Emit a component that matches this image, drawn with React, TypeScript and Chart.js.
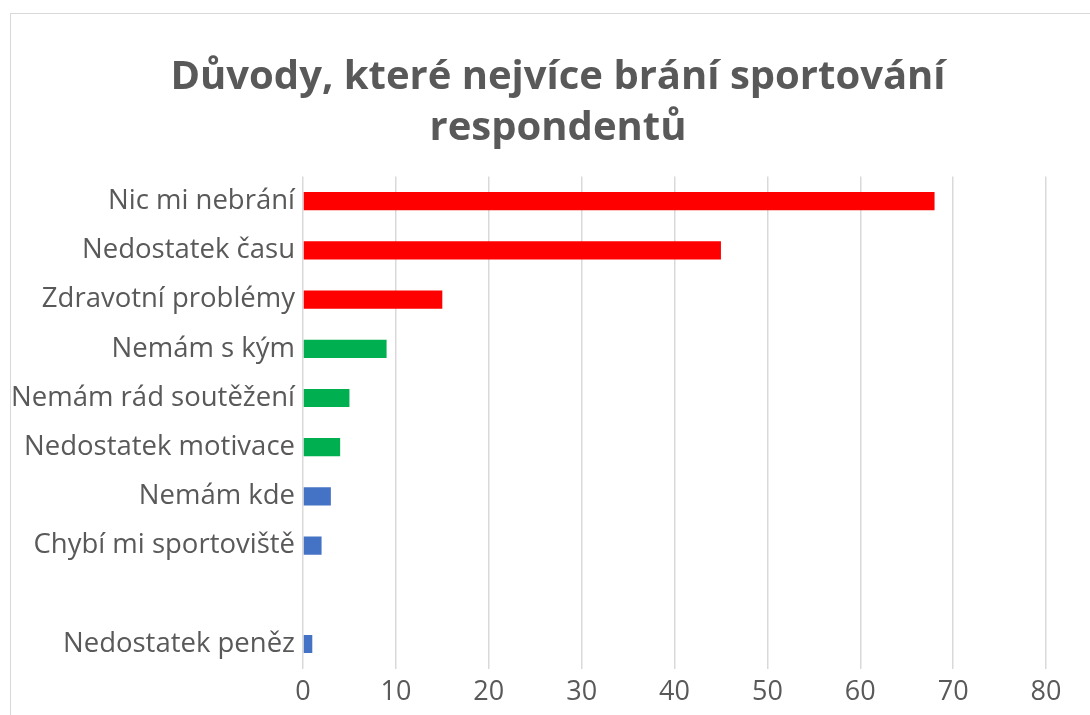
import React, { useEffect, useRef } from "react";
import { Chart, registerables } from "chart.js";

Chart.register(...registerables);

const TITLE_LINES = ["Důvody, které nejvíce brání sportování", "respondentů"];

const categories = [
  "Nic mi nebrání",
  "Nedostatek času",
  "Zdravotní problémy",
  "Nemám s kým",
  "Nemám rád soutěžení",
  "Nedostatek motivace",
  "Nemám kde",
  "Chybí mi sportoviště",
  "",
  "Nedostatek peněz",
];

const values: (number | null)[] = [68, 45, 15, 9, 5, 4, 3, 2, null, 1];

const barColors = [
  "#FF0000",
  "#FF0000",
  "#FF0000",
  "#00B050",
  "#00B050",
  "#00B050",
  "#4472C4",
  "#4472C4",
  "#4472C4",
  "#4472C4",
];

const xTicks = { min: 0, max: 80, step: 10 };

const TEXT = "#595959";
const FONT = "'Open Sans', 'Noto Sans', sans-serif";

export default function App() {
  const ref = useRef<HTMLCanvasElement | null>(null);

  useEffect(() => {
    if (!ref.current) return;
    const chart = new Chart(ref.current, {
      type: "bar",
      data: {
        labels: categories,
        datasets: [
          {
            data: values,
            backgroundColor: barColors,
            borderWidth: 0,
            barPercentage: 0.37,
            categoryPercentage: 1,
          },
        ],
      },
      options: {
        indexAxis: "y",
        animation: false,
        responsive: false,
        maintainAspectRatio: false,
        layout: { padding: { top: 32, right: 0, bottom: 17, left: 0 } },
        plugins: {
          legend: { display: false },
          tooltip: { enabled: false },
          title: {
            display: true,
            text: TITLE_LINES,
            color: TEXT,
            font: { family: FONT, size: 40, weight: "bold", lineHeight: 1.27 },
            padding: { top: 6, bottom: 23 },
          },
        },
        scales: {
          x: {
            min: xTicks.min,
            max: xTicks.max,
            ticks: {
              stepSize: xTicks.step,
              color: TEXT,
              font: { family: FONT, size: 27 },
              padding: 8,
            },
            grid: { color: "#d9d9d9", lineWidth: 1.5, drawTicks: false },
            border: { display: false },
          },
          y: {
            ticks: {
              color: TEXT,
              font: { family: FONT, size: 27.5 },
              padding: 8,
            },
            grid: { display: false, drawTicks: false },
            border: { display: false },
            afterFit: (scale: any) => {
              scale.width = 292;
            },
          },
          yRightSpace: {
            type: "category",
            position: "right",
            display: true,
            ticks: { display: false },
            grid: { display: false, drawTicks: false },
            border: { display: false },
            afterFit: (scale: any) => {
              scale.width = 59;
            },
          },
        },
      },
    });
    return () => chart.destroy();
  }, []);

  return (
    <div
      style={{
        position: "fixed",
        left: 0,
        top: 0,
        width: 1090,
        height: 715,
        overflow: "hidden",
        background: "#fff",
      }}
    >
      <div
        style={{
          position: "absolute",
          left: 10,
          top: 13,
          width: 1094,
          height: 720,
          border: "1px solid #d9d9d9",
        }}
      >
        <canvas ref={ref} width={1094} height={720} style={{ display: "block" }} />
      </div>
    </div>
  );
}
